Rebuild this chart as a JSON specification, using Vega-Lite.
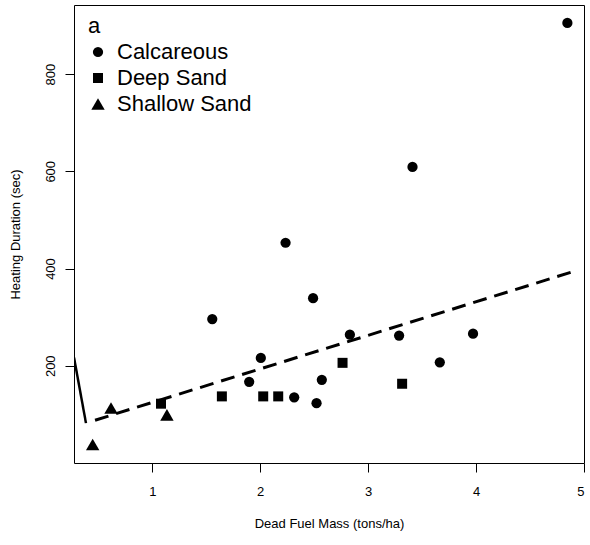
{
  "$schema": "https://vega.github.io/schema/vega-lite/v6.json",
  "width": 510,
  "height": 458,
  "autosize": "none",
  "padding": {"left": 74, "top": 5, "right": 6, "bottom": 82},
  "background": "white",
  "config": {
    "font": "Liberation Sans",
    "view": {"stroke": "#000000", "strokeWidth": 1},
    "axis": {
      "grid": false,
      "domain": false,
      "tickColor": "#000000",
      "tickSize": 9,
      "labelColor": "#000000",
      "labelFont": "Liberation Sans",
      "labelFontSize": 13,
      "titleColor": "#000000",
      "titleFont": "Liberation Sans",
      "titleFontSize": 13,
      "titleFontWeight": "normal"
    }
  },
  "datasets": {
    "pts": [
      {"type": "Calcareous", "mass": 1.556, "dur": 296},
      {"type": "Calcareous", "mass": 2.006, "dur": 216},
      {"type": "Calcareous", "mass": 1.898, "dur": 167},
      {"type": "Calcareous", "mass": 2.315, "dur": 135},
      {"type": "Calcareous", "mass": 2.235, "dur": 453},
      {"type": "Calcareous", "mass": 2.49, "dur": 339},
      {"type": "Calcareous", "mass": 2.571, "dur": 171},
      {"type": "Calcareous", "mass": 2.522, "dur": 123},
      {"type": "Calcareous", "mass": 2.831, "dur": 264},
      {"type": "Calcareous", "mass": 3.287, "dur": 262},
      {"type": "Calcareous", "mass": 3.411, "dur": 609},
      {"type": "Calcareous", "mass": 3.664, "dur": 207},
      {"type": "Calcareous", "mass": 3.972, "dur": 266},
      {"type": "Calcareous", "mass": 4.846, "dur": 905},
      {"type": "Deep Sand", "mass": 1.081, "dur": 122},
      {"type": "Deep Sand", "mass": 1.645, "dur": 137},
      {"type": "Deep Sand", "mass": 2.028, "dur": 137},
      {"type": "Deep Sand", "mass": 2.167, "dur": 137},
      {"type": "Deep Sand", "mass": 2.763, "dur": 206},
      {"type": "Deep Sand", "mass": 3.315, "dur": 163},
      {"type": "Shallow Sand", "mass": 0.448, "dur": 38},
      {"type": "Shallow Sand", "mass": 0.618, "dur": 113},
      {"type": "Shallow Sand", "mass": 1.136, "dur": 99}
    ],
    "solid": [
      {"mass": 0.275, "dur": 217},
      {"mass": 0.386, "dur": 82}
    ],
    "dashed": [
      {"mass": 0.47, "dur": 88},
      {"mass": 4.89, "dur": 393}
    ]
  },
  "layer": [
    {
      "data": {"name": "solid"},
      "mark": {"type": "line", "color": "#000000", "strokeWidth": 2.5, "clip": true},
      "encoding": {
        "x": {"field": "mass", "type": "quantitative", "scale": {"domain": [0.275, 5.0], "nice": false, "zero": false},
          "axis": {"values": [1, 2, 3, 4, 5], "format": "d", "title": "Dead Fuel Mass (tons/ha)", "labelPadding": 13, "titlePadding": 19}},
        "y": {"field": "dur", "type": "quantitative", "scale": {"domain": [0, 942], "nice": false, "zero": false},
          "axis": {"values": [200, 400, 600, 800], "title": "Heating Duration (sec)", "labelAngle": 270, "labelAlign": "center", "labelBaseline": "bottom", "labelPadding": 8, "titlePadding": 22}}
      }
    },
    {
      "data": {"name": "dashed"},
      "mark": {"type": "line", "color": "#000000", "strokeWidth": 3, "strokeDash": [14, 8], "strokeCap": "butt", "clip": true},
      "encoding": {
        "x": {"field": "mass", "type": "quantitative"},
        "y": {"field": "dur", "type": "quantitative"}
      }
    },
    {
      "data": {"name": "pts"},
      "mark": {"type": "point", "filled": true, "color": "#000000", "opacity": 1},
      "encoding": {
        "x": {"field": "mass", "type": "quantitative"},
        "y": {"field": "dur", "type": "quantitative"},
        "shape": {"field": "type", "type": "ordinal",
          "scale": {"domain": ["Calcareous", "Deep Sand", "Shallow Sand"], "range": ["circle", "square", "triangle-up"]},
          "legend": {
            "title": "a",
            "orient": "none",
            "legendX": 14,
            "legendY": 11,
            "padding": 0,
            "titleFontSize": 22,
            "titleFontWeight": "normal",
            "titleColor": "#000000",
            "titleFont": "Liberation Sans",
            "titlePadding": 3,
            "labelFontSize": 22,
            "labelFont": "Liberation Sans",
            "labelColor": "#000000",
            "labelOffset": 8,
            "rowPadding": 4,
            "symbolOffset": -1,
            "symbolFillColor": "#000000",
            "symbolStrokeColor": "#000000",
            "symbolOpacity": 1
          }},
        "size": {"field": "type", "type": "ordinal",
          "scale": {"type": "ordinal", "domain": ["Calcareous", "Deep Sand", "Shallow Sand"], "range": [105, 100, 180]}}
      }
    }
  ]
}
